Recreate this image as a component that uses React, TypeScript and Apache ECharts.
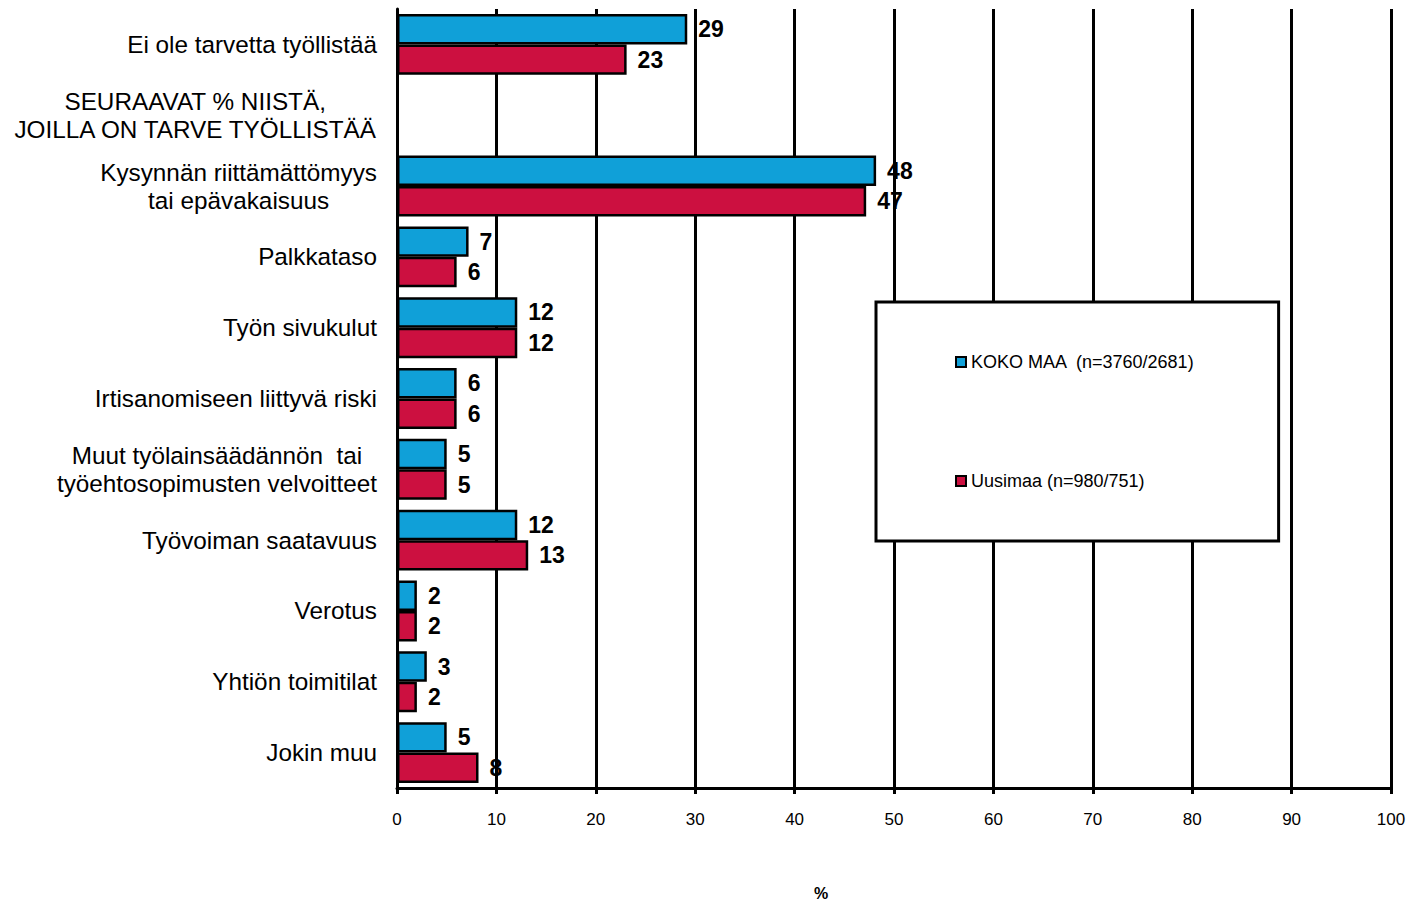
import React, { useEffect, useRef } from "react";
import * as echarts from "echarts";

const categories: string[] = [
  "Ei ole tarvetta työllistää",
  "SEURAAVAT % NIISTÄ,\nJOILLA ON TARVE TYÖLLISTÄÄ",
  "Kysynnän riittämättömyys\ntai epävakaisuus",
  "Palkkataso",
  "Työn sivukulut",
  "Irtisanomiseen liittyvä riski",
  "Muut työlainsäädännön  tai\ntyöehtosopimusten velvoitteet",
  "Työvoiman saatavuus",
  "Verotus",
  "Yhtiön toimitilat",
  "Jokin muu",
];

const seriesNames: string[] = ["KOKO MAA  (n=3760/2681)", "Uusimaa (n=980/751)"];

const kokoMaa: (number | null)[] = [29.2, null, 48.2, 7.2, 12.1, 6.0, 5.0, 12.1, 2.0, 3.0, 5.0];
const uusimaa: (number | null)[] = [23.1, null, 47.2, 6.0, 12.1, 6.0, 5.0, 13.2, 2.0, 2.0, 8.2];

const xTicks = { min: 0, max: 100, interval: 10 };

const FONT = "'Liberation Sans', Arial, sans-serif";
const BLUE = "#10A0D8";
const RED = "#CC1040";

export default function App() {
  const ref = useRef<HTMLDivElement>(null);

  useEffect(() => {
    if (!ref.current) return;
    const chart = echarts.init(ref.current, undefined, { renderer: "svg" });

    const labelCfg = {
      show: true,
      position: "right" as const,
      distance: 11,
      color: "#000",
      fontSize: 23,
      fontWeight: "bold" as const,
      fontFamily: FONT,
      formatter: (p: any) => (p.value == null ? "" : String(Math.round(p.value))),
    };

    chart.setOption({
      animation: false,
      backgroundColor: "#fff",
      textStyle: { fontFamily: FONT },
      grid: {
        left: 397,
        right: 30,
        top: 9,
        bottom: 113,
        containLabel: false,
        outerBoundsMode: "none",
      },
      legend: {
        orient: "vertical",
        left: 876,
        top: 302,
        padding: [51, 84, 51, 79],
        itemGap: 101,
        itemWidth: 10,
        itemHeight: 10,
        icon: "rect",
        borderColor: "#000",
        borderWidth: 3,
        backgroundColor: "#fff",
        textStyle: { fontSize: 18, color: "#000", fontFamily: FONT },
        data: [
          { name: seriesNames[0], itemStyle: { color: BLUE, borderColor: "#000", borderWidth: 2 } },
          { name: seriesNames[1], itemStyle: { color: RED, borderColor: "#000", borderWidth: 2 } },
        ],
      },
      xAxis: {
        type: "value",
        min: xTicks.min,
        max: xTicks.max,
        interval: xTicks.interval,
        name: "%",
        nameLocation: "middle",
        nameGap: 98,
        nameTextStyle: {
          fontSize: 16,
          lineHeight: 14,
          fontWeight: "bold",
          color: "#000",
          fontFamily: FONT,
          padding: [0, 146, 0, 0],
        },
        axisLine: { show: true, lineStyle: { color: "#000", width: 3 } },
        axisTick: { show: true, length: 6, lineStyle: { color: "#000", width: 3 } },
        axisLabel: { fontSize: 17, color: "#000", margin: 23, fontFamily: FONT },
        splitLine: { show: true, lineStyle: { color: "#000", width: 3 } },
      },
      yAxis: {
        type: "category",
        inverse: true,
        data: categories,
        axisLine: { show: true, lineStyle: { color: "#000", width: 3 } },
        axisTick: { show: false },
        axisLabel: {
          margin: 20,
          align: "right",
          formatter: (v: string) =>
            v
              .split("\n")
              .map((l) => `{c|${l}}`)
              .join("\n"),
          rich: {
            c: {
              align: "center",
              fontSize: 24.3,
              lineHeight: 28,
              color: "#000",
              fontFamily: FONT,
            },
          },
        },
        splitLine: { show: false },
      },
      series: [
        {
          name: seriesNames[0],
          type: "bar",
          data: kokoMaa,
          barGap: "0%",
          barCategoryGap: "14%",
          itemStyle: { color: BLUE, borderColor: "#000", borderWidth: 2.5 },
          label: labelCfg,
        },
        {
          name: seriesNames[1],
          type: "bar",
          data: uusimaa,
          barGap: "0%",
          barCategoryGap: "14%",
          itemStyle: { color: RED, borderColor: "#000", borderWidth: 2.5 },
          label: labelCfg,
        },
      ],
    });

    return () => chart.dispose();
  }, []);

  return <div ref={ref} style={{ width: 1421, height: 901, position: "absolute", left: 0, top: 0 }} />;
}
